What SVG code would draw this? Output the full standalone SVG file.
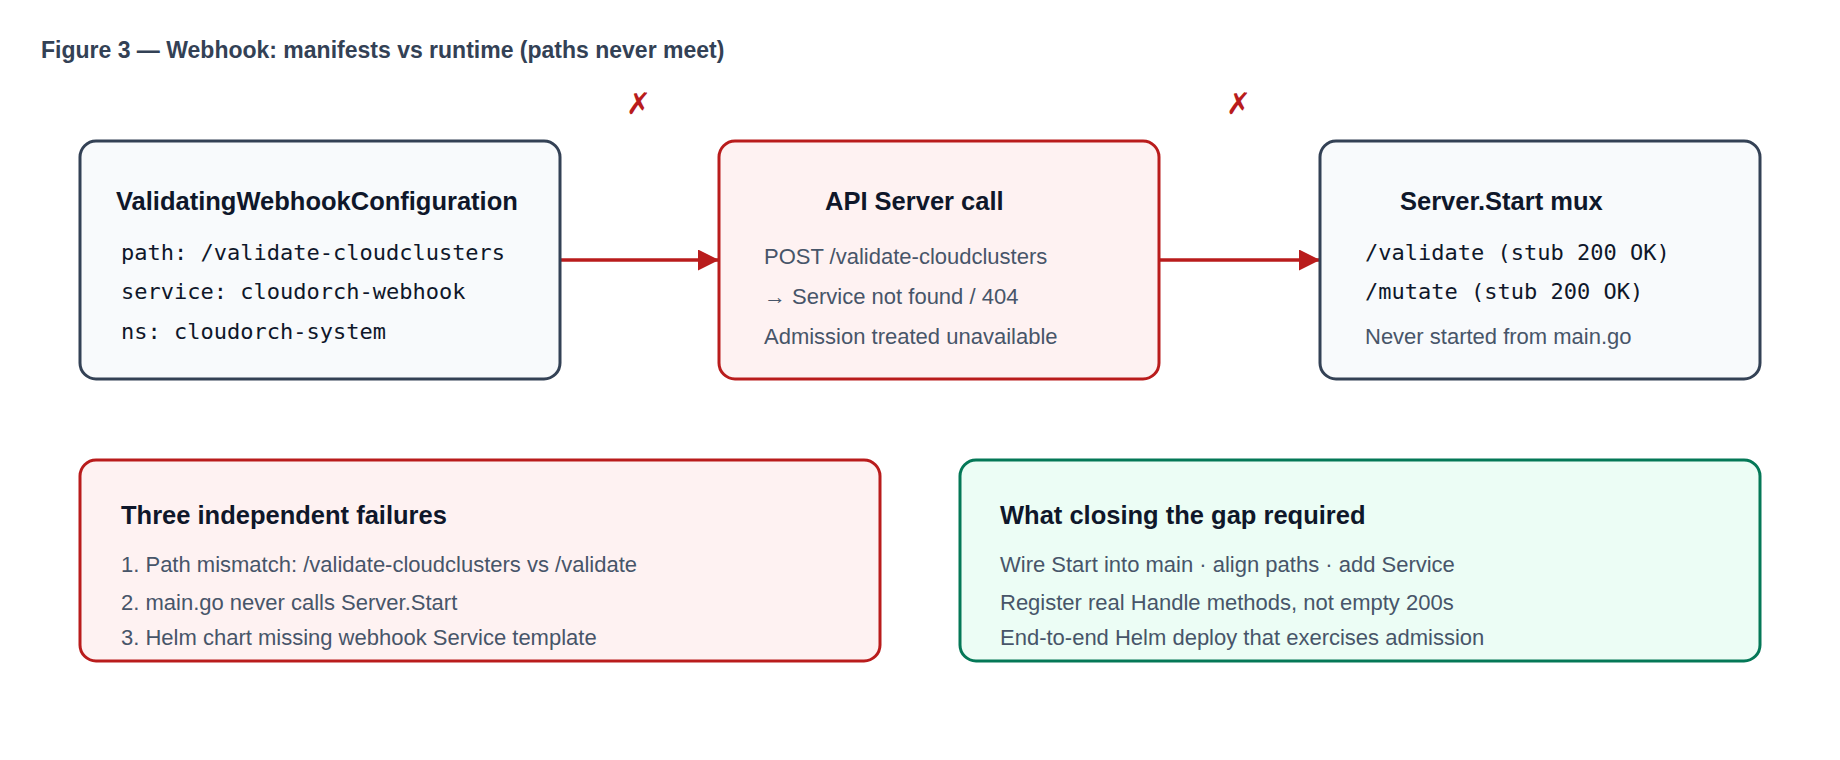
<svg xmlns="http://www.w3.org/2000/svg" width="1840" height="760" viewBox="0 0 1840 760">
<style>
.t{font-family:"Liberation Sans",Arial,sans-serif;font-size:23px;font-weight:600;fill:#334155}
.h{font-family:"Liberation Sans",Arial,sans-serif;font-size:25.5px;font-weight:bold;fill:#0f172a}
.b{font-family:"Liberation Sans",Arial,sans-serif;font-size:22px;fill:#475569}
.m{font-family:"DejaVu Sans Mono",monospace;font-size:22px;fill:#0f172a}
.x{font-family:"DejaVu Sans",sans-serif;font-size:30px;fill:#b91c1c}
.dark{fill:#f8fafc;stroke:#334155;stroke-width:3}
.red{fill:#fef2f2;stroke:#b91c1c;stroke-width:3}
.green{fill:#ecfdf5;stroke:#047857;stroke-width:3}
.c{stroke:#b91c1c;stroke-width:3.5;fill:none}
</style>
<defs><marker id="ah" viewBox="0 0 10 10" refX="10" refY="5" markerWidth="6" markerHeight="6" orient="auto" markerUnits="strokeWidth"><path d="M0,0 L10,5 L0,10 z" fill="#b91c1c"/></marker></defs>
<rect width="1840" height="760" fill="#ffffff"/>
<text class="t" x="41" y="58">Figure 3 — Webhook: manifests vs runtime (paths never meet)</text>
<g id="connectors">
<line class="c" x1="560" y1="260" x2="719" y2="260" marker-end="url(#ah)"/>
<line class="c" x1="1159" y1="260" x2="1320" y2="260" marker-end="url(#ah)"/>
<text class="x" x="626" y="114">✗</text>
<text class="x" x="1226" y="114">✗</text>
</g>
<g id="vwc">
<rect class="dark" x="80" y="141" width="480" height="238" rx="16"/>
<text class="h" x="116" y="210">ValidatingWebhookConfiguration</text>
<text class="m" x="121" y="260">path: /validate-cloudclusters</text>
<text class="m" x="121" y="299">service: cloudorch-webhook</text>
<text class="m" x="121" y="339">ns: cloudorch-system</text>
</g>
<g id="api">
<rect class="red" x="719" y="141" width="440" height="238" rx="16"/>
<text class="h" x="825" y="210">API Server call</text>
<text class="b" x="764" y="264">POST /validate-cloudclusters</text>
<text class="b" x="764" y="304">→ Service not found / 404</text>
<text class="b" x="764" y="344">Admission treated unavailable</text>
</g>
<g id="mux">
<rect class="dark" x="1320" y="141" width="440" height="238" rx="16"/>
<text class="h" x="1400" y="210">Server.Start mux</text>
<text class="m" x="1365" y="260">/validate (stub 200 OK)</text>
<text class="m" x="1365" y="299">/mutate (stub 200 OK)</text>
<text class="b" x="1365" y="344">Never started from main.go</text>
</g>
<g id="failures">
<rect class="red" x="80" y="460" width="800" height="201" rx="16"/>
<text class="h" x="121" y="524">Three independent failures</text>
<text class="b" x="121" y="572">1. Path mismatch: /validate-cloudclusters vs /validate</text>
<text class="b" x="121" y="610">2. main.go never calls Server.Start</text>
<text class="b" x="121" y="645">3. Helm chart missing webhook Service template</text>
</g>
<g id="gap">
<rect class="green" x="960" y="460" width="800" height="201" rx="16"/>
<text class="h" x="1000" y="524">What closing the gap required</text>
<text class="b" x="1000" y="572">Wire Start into main · align paths · add Service</text>
<text class="b" x="1000" y="610">Register real Handle methods, not empty 200s</text>
<text class="b" x="1000" y="645">End-to-end Helm deploy that exercises admission</text>
</g>
</svg>
